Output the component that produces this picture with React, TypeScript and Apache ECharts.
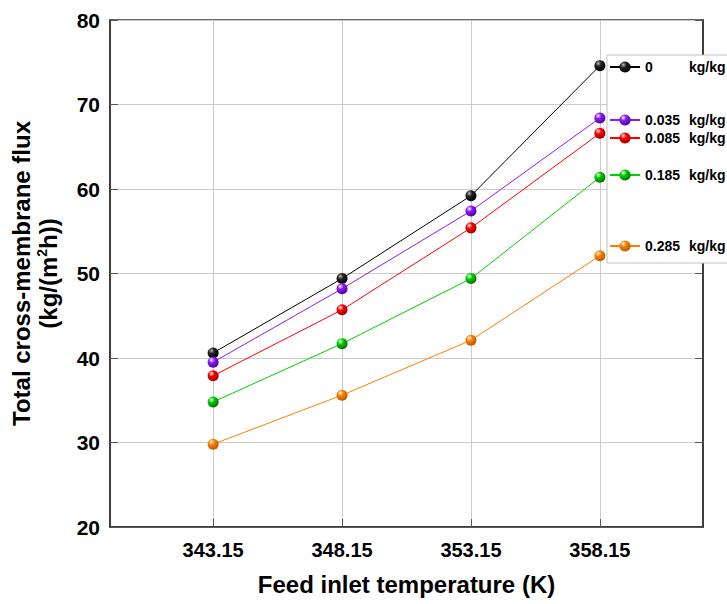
import React, { useEffect, useRef } from "react";
import * as echarts from "echarts";

const temps = [343.15, 348.15, 353.15, 358.15];
const seriesNames = ["0", "0.035", "0.085", "0.185", "0.285"];
const flux0 = [40.6, 49.4, 59.2, 74.6];
const flux0035 = [39.5, 48.2, 57.4, 68.4];
const flux0085 = [37.9, 45.7, 55.4, 66.6];
const flux0185 = [34.8, 41.7, 49.4, 61.4];
const flux0285 = [29.8, 35.6, 42.1, 52.1];
const allFlux = [flux0, flux0035, flux0085, flux0185, flux0285];
const colors = ["#000000", "#8c1aff", "#ff0000", "#00d000", "#ff8000"];
const darkColors = ["#000000", "#4a0099", "#990000", "#006b00", "#b35900"];
const legendCenters = [67, 120, 138, 175, 246];

const FONT = "Liberation Sans, Arial, sans-serif";

export default function App() {
  const ref = useRef<HTMLDivElement>(null);
  useEffect(() => {
    if (!ref.current) return;
    const chart = echarts.init(ref.current, null, { renderer: "svg" });
    const ball = (i: number) =>
      new echarts.graphic.RadialGradient(0.35, 0.3, 0.75, [
        { offset: 0, color: i === 0 ? "#bbbbbb" : "#ffffff" },
        { offset: 0.35, color: i === 0 ? "#222222" : colors[i] },
        { offset: 1, color: darkColors[i] },
      ]);
    const series = allFlux.map((d, i) => ({
      name: seriesNames[i],
      type: "line",
      data: temps.map((t, j) => [t, d[j]]),
      symbol: "circle",
      symbolSize: 11,
      lineStyle: { color: colors[i], width: 1 },
      itemStyle: { color: ball(i) },
      z: 2 + i,
    }));
    const legends = seriesNames.map((n, i) => ({
      data: [n],
      left: 609,
      top: legendCenters[i] - 7,
      padding: 0,
      itemWidth: 30,
      itemHeight: 14,
      itemGap: 5,
      z: 6,
      formatter: (name: string) => `{a|${name}}{b|kg/kg}`,
      textStyle: {
        rich: {
          a: { width: 44, fontSize: 14, fontWeight: "bold", fontFamily: FONT, color: "#000" },
          b: { fontSize: 14, fontWeight: "bold", fontFamily: FONT, color: "#000" },
        },
      },
    }));
    chart.setOption({
      animation: false,
      backgroundColor: "#ffffff",
      grid: { left: 110, right: 24, top: 20, bottom: 77, show: true, borderColor: "#333", borderWidth: 1.5 },
      legend: legends,
      graphic: [
        {
          type: "rect",
          z: 5,
          shape: { x: 607, y: 55, width: 140, height: 208 },
          style: { fill: "#ffffff", stroke: "#c0c0c0", lineWidth: 1 },
        },
      ],
      xAxis: {
        type: "value",
        min: 339.15,
        max: 362.15,
        name: "Feed inlet temperature (K)",
        nameLocation: "middle",
        nameGap: 45,
        nameTextStyle: { fontSize: 24, fontWeight: "bold", fontFamily: FONT, color: "#000" },
        axisLine: { lineStyle: { color: "#333", width: 1.5 } },
        axisTick: { inside: true, length: 8, customValues: temps, lineStyle: { color: "#555" } },
        axisLabel: {
          customValues: temps,
          formatter: (v: number) => v.toFixed(2),
          fontSize: 20,
          fontWeight: "bold",
          fontFamily: FONT,
          color: "#000",
          margin: 13,
        },
        splitLine: { show: true, lineStyle: { color: "#cccccc", width: 1 } },
      },
      yAxis: [
        {
          type: "value",
          min: 20,
          max: 80,
          interval: 10,
          name: "{a|Total cross-membrane flux}\n{a|(kg/(m}{s|2}{a|h))}",
          nameLocation: "middle",
          nameRotate: 90,
          nameGap: 48,
          nameTextStyle: {
            rich: {
              a: { fontSize: 24, fontWeight: "bold", fontFamily: FONT, color: "#000", lineHeight: 27 },
              s: { fontSize: 14, fontWeight: "bold", fontFamily: FONT, color: "#000", verticalAlign: "top", lineHeight: 27 },
            },
          },
          axisLine: { show: true, lineStyle: { color: "#333", width: 1.5 } },
          axisTick: { inside: true, length: 8, lineStyle: { color: "#555" } },
          axisLabel: { fontSize: 21, fontWeight: "bold", fontFamily: FONT, color: "#000", margin: 10 },
          splitLine: { show: true, lineStyle: { color: "#cccccc", width: 1 } },
        },
        {
          type: "value",
          position: "right",
          min: 20,
          max: 80,
          interval: 10,
          axisLine: { show: true, lineStyle: { color: "#333", width: 1.5 } },
          axisTick: { inside: true, length: 8, lineStyle: { color: "#555" } },
          axisLabel: { show: false },
          splitLine: { show: false },
        },
      ],
      series,
    });
    return () => chart.dispose();
  }, []);
  return <div ref={ref} style={{ width: 727, height: 604, position: "absolute", left: 0, top: 0 }} />;
}
